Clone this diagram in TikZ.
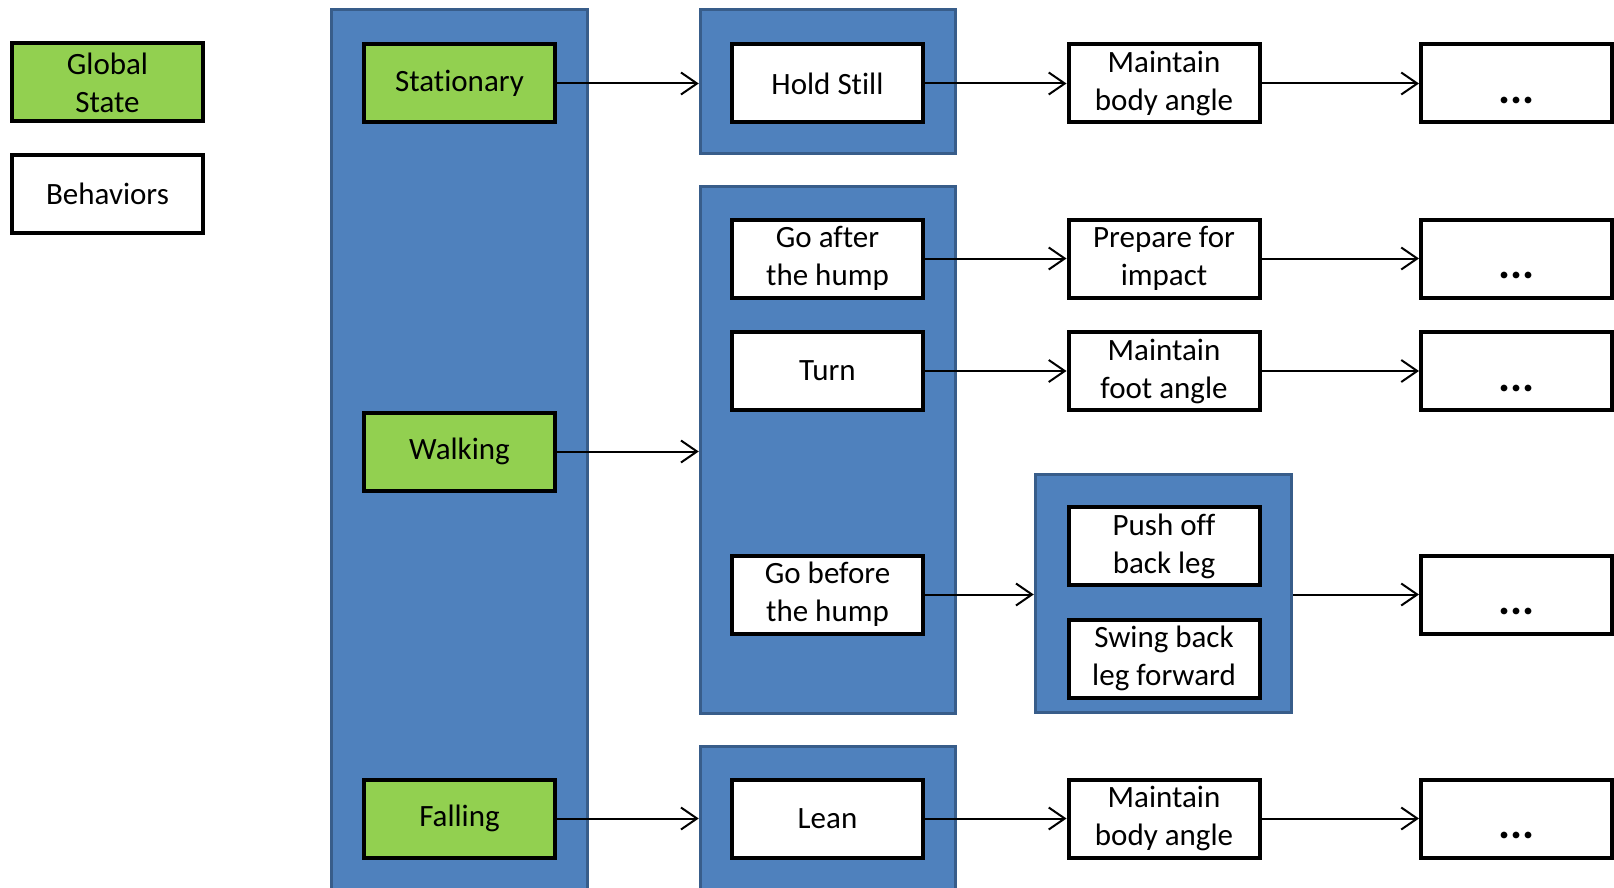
\documentclass[tikz,border=0pt]{standalone}
\usepackage{fontspec}
\setmainfont{Carlito}[Ligatures={NoCommon}]
\usetikzlibrary{arrows.meta}
\definecolor{bluefill}{HTML}{4F81BD}
\definecolor{blueline}{HTML}{385D8A}
\definecolor{greenfill}{HTML}{92D050}
\begin{document}
\begin{tikzpicture}[x=1pt,y=-1pt,
  box/.style={draw=black, line width=4pt, minimum width=191pt, minimum height=78pt,
    align=center, inner sep=0pt, font=\fontsize{31}{38}\selectfont, fill=white},
  gstate/.style={box, fill=greenfill},
  dotsbox/.style={box, text height=40pt, text depth=0pt, font=\fontsize{45}{50}\selectfont\bfseries},
  panel/.style={draw=blueline, fill=bluefill, line width=3.5pt, inner sep=0pt},
  arr/.style={line width=2pt, -{Straight Barb[length=16pt,width=22pt]}}
]
\useasboundingbox (0,0) rectangle (1614,888);
% legend
\node[gstate] (gs) at (107.5,82.5) {Global\\State};
\node[box] (beh) at (107.5,194) {Behaviors};
% panels
\node[panel, minimum width=256pt, minimum height=949pt] (col) at (459.5,484) {};
\node[panel, minimum width=255pt, minimum height=144pt] (B1) at (828,81.5) {};
\node[panel, minimum width=255pt, minimum height=527pt] (B2) at (828,450) {};
\node[panel, minimum width=255pt, minimum height=212pt] (B3) at (828,852.5) {};
\node[panel, minimum width=256pt, minimum height=238pt] (B4) at (1163.5,593.5) {};
% global states
\node[gstate] (stat) at (459.5,83.5) {Stationary};
\node[gstate] (walk) at (459.5,451.5) {Walking};
\node[gstate] (fall) at (459.5,818.5) {Falling};
% column 2
\node[box] (hold) at (827.5,83.5) {Hold Still};
\node[box] (after) at (827.5,258.5) {Go after\\the hump};
\node[box] (turn) at (827.5,371) {Turn};
\node[box] (before) at (827.5,594.5) {Go before\\the hump};
\node[box] (lean) at (827.5,818.5) {Lean};
% column 3
\node[box] (mb1) at (1164,83.5) {Maintain\\body angle};
\node[box] (prep) at (1164,258.5) {Prepare for\\impact};
\node[box] (mfoot) at (1164,371) {Maintain\\foot angle};
\node[box] (push) at (1164,546) {Push off\\back leg};
\node[box] (swing) at (1164,658.5) {Swing back\\leg forward};
\node[box] (mb2) at (1164,818.5) {Maintain\\body angle};
% column 4
\node[dotsbox] (d1) at (1516.5,83.5) {...};
\node[dotsbox] (d2) at (1516.5,258.5) {...};
\node[dotsbox] (d3) at (1516.5,371) {...};
\node[dotsbox] (d4) at (1516.5,594.5) {...};
\node[dotsbox] (d5) at (1516.5,818.5) {...};
% arrows
\draw[arr] (stat) -- (stat -| B1.west);
\draw[arr] (hold) -- (mb1);
\draw[arr] (mb1) -- (d1);
\draw[arr] (walk) -- (walk -| B2.west);
\draw[arr] (after) -- (prep);
\draw[arr] (prep) -- (d2);
\draw[arr] (turn) -- (mfoot);
\draw[arr] (mfoot) -- (d3);
\draw[arr] (before) -- (before -| B4.west);
\draw[arr] (d4 -| B4.east) -- (d4);
\draw[arr] (fall) -- (fall -| B3.west);
\draw[arr] (lean) -- (mb2);
\draw[arr] (mb2) -- (d5);
\end{tikzpicture}
\end{document}
